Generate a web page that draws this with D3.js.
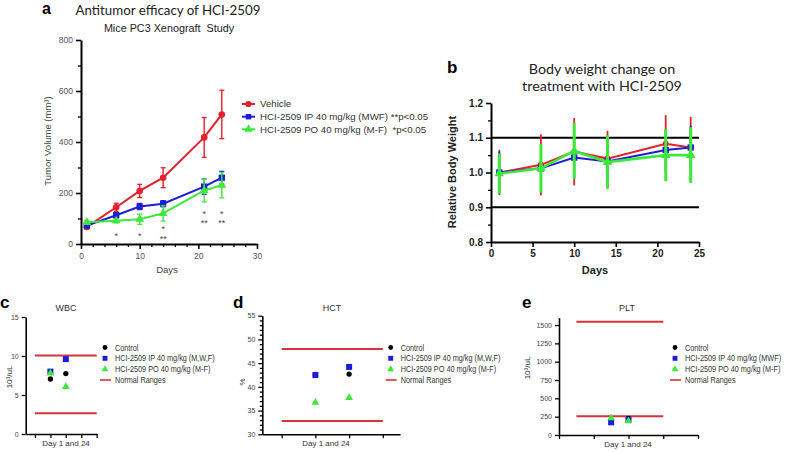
<!DOCTYPE html>
<html><head><meta charset="utf-8">
<script src="https://cdn.jsdelivr.net/npm/d3@7"></script>
<style>
body{margin:0;background:#fff;}
svg{display:block;font-family:"Liberation Sans",Arial,sans-serif;}
</style></head><body>
<svg id="chart" width="789" height="452"></svg>
<script>
// ---------------- data ----------------
const days = [1, 6, 10, 14, 21, 24];
// panel a: tumor volume (mm3)
const vehicleVol = [67, 144, 208, 260, 418, 508];
const vehicleErr = [8, 16, 26, 39, 78, 95];
const ipVol = [72, 113, 147, 158, 225, 260];
const ipErr = [8, 10, 12, 12, 30, 25];
const poVol = [85, 91, 97, 120, 210, 231];
const poErr = [8, 8, 20, 30, 45, 50];
const tumorLegend = ["Vehicle", "HCI-2509 IP 40 mg/kg (MWF) **p<0.05", "HCI-2509 PO 40 mg/kg (M-F)  *p<0.05"];
const sigDays = [6, 10, 14, 14, 21, 21, 24, 24];
const sigMarks = ["*", "*", "*", "**", "*", "**", "*", "**"];
const sigLevel = [39, 39, 67, 27, 125, 90, 125, 90];
const tumorTicks = [0, 200, 400, 600, 800];
const tumorMinor = [100, 300, 500, 700];
const dayTicksA = [0, 10, 20, 30];
const dayMinorA = [2, 4, 6, 8, 12, 14, 16, 18, 22, 24, 26, 28];

// panel b: relative body weight
const bwVehicle = [1.0, 1.022, 1.06, 1.04, 1.083, 1.072];
const bwVehicleErr = [0.065, 0.088, 0.097, 0.08, 0.082, 0.088];
const bwIP = [1.0, 1.012, 1.043, 1.032, 1.065, 1.072];
const bwIPErr = [0.06, 0.07, 0.06, 0.07, 0.06, 0.062];
const bwPO = [0.997, 1.012, 1.062, 1.03, 1.05, 1.05];
const bwPOErr = [0.058, 0.07, 0.08, 0.077, 0.075, 0.08];
const bwRefLines = [1.1, 0.9];
const bwTicks = [0.8, 0.9, 1.0, 1.1, 1.2];
const bwMinor = [0.85, 0.95, 1.05, 1.15];
const dayTicksB = [0, 5, 10, 15, 20, 25];

// panels c-e: blood counts (Day 1 and Day 24)
const wbcControl = [7.05, 7.75], wbcIP = [8.0, 9.6], wbcPO = [7.8, 6.05], wbcRange = [2.65, 10.05];
const hctControl = [42.5, 42.7], hctIP = [42.5, 44.2], hctPO = [36.7, 37.7], hctRange = [32.8, 48.0];
const pltControl = [205, 228], pltIP = [173, 205], pltPO = [232, 191], pltRange = [255, 1545];
const bloodLegendCD = ["Control", "HCI-2509 IP 40 mg/kg (M,W,F)", "HCI-2509 PO 40 mg/kg (M-F)", "Normal Ranges"];
const bloodLegendE = ["Control", "HCI-2509 IP 40 mg/kg (MWF)", "HCI-2509 PO 40 mg/kg (M-F)", "Normal Ranges"];

// ---------------- drawing ----------------
const svg = d3.select("#chart");
const RED = "#e5202a", BLUE = "#1d1dd8", GREEN = "#3ce83c", RANGE = "#d8323a";
const FONT = "Liberation Sans, Arial, sans-serif";

function styleAxis(g, sw, fs, col, bold) {
  g.select(".domain").attr("stroke", "#000").attr("stroke-width", sw);
  g.selectAll(".tick line").attr("stroke", "#000").attr("stroke-width", Math.max(1, sw * 0.8));
  g.selectAll(".tick text").attr("font-size", fs).attr("fill", col)
    .attr("font-family", FONT).attr("font-weight", bold ? "bold" : null);
}
function minor(g, axis) {
  const m = g.append("g").call(axis);
  m.select(".domain").remove();
  m.selectAll(".tick line").attr("stroke", "#000").attr("stroke-width", 1.3);
}
function series(g, x, y, xs, vals, errs, color, shape, o) {
  const eb = g.append("g").attr("stroke", color).attr("stroke-width", o.ew);
  xs.forEach((d, i) => {
    const X = x(d), y1 = y(vals[i] - errs[i]), y2 = y(vals[i] + errs[i]);
    eb.append("line").attr("x1", X).attr("x2", X).attr("y1", y1).attr("y2", y2);
    if (o.cap) {
      eb.append("line").attr("x1", X - o.cap).attr("x2", X + o.cap).attr("y1", y1).attr("y2", y1).attr("stroke-width", 1.3);
      eb.append("line").attr("x1", X - o.cap).attr("x2", X + o.cap).attr("y1", y2).attr("y2", y2).attr("stroke-width", 1.3);
    }
  });
  g.append("path").attr("d", d3.line().x((d, i) => x(xs[i])).y(d => y(d))(vals))
    .attr("fill", "none").attr("stroke", color).attr("stroke-width", o.lw);
  g.append("g").selectAll("path").data(vals).join("path")
    .attr("transform", (d, i) => `translate(${x(xs[i])},${y(d)})`)
    .attr("d", d3.symbol(shape, o.ms)).attr("fill", color);
}

// ===== Panel a =====
{
  const g = svg.append("g");
  const x = d3.scaleLinear([0, 30], [81, 257]);
  const y = d3.scaleLinear([0, 800], [244, 40]);
  const ya = g.append("g").attr("transform", "translate(81,0)")
    .call(d3.axisLeft(y).tickValues(tumorTicks).tickSize(5).tickSizeOuter(0).tickPadding(3));
  styleAxis(ya, 2, 8.5, "#555");
  minor(ya, d3.axisLeft(y).tickValues(tumorMinor).tickSize(3).tickFormat(""));
  const xa = g.append("g").attr("transform", "translate(0,244)")
    .call(d3.axisBottom(x).tickValues(dayTicksA).tickSize(5).tickSizeOuter(0).tickPadding(4));
  styleAxis(xa, 2, 8.5, "#555");
  minor(xa, d3.axisBottom(x).tickValues(dayMinorA).tickSize(3).tickFormat(""));

  series(g, x, y, days, vehicleVol, vehicleErr, RED, d3.symbolCircle, {ew: 1.4, lw: 2, ms: 34, cap: 2.5});
  series(g, x, y, days, ipVol, ipErr, BLUE, d3.symbolSquare, {ew: 1.4, lw: 2, ms: 40, cap: 2.5});
  series(g, x, y, days, poVol, poErr, GREEN, d3.symbolTriangle, {ew: 1.4, lw: 2, ms: 34, cap: 2.5});

  g.append("g").selectAll("text").data(sigMarks).join("text")
    .attr("x", (d, i) => x(sigDays[i])).attr("y", (d, i) => y(sigLevel[i]) + 5)
    .attr("text-anchor", "middle").attr("font-size", 9).attr("fill", "#444").text(d => d);

  g.append("text").attr("x", 42).attr("y", 14).attr("font-size", 16).attr("font-weight", "bold").text("a");
  g.append("text").attr("x", 168).attr("y", 15).attr("text-anchor", "middle")
    .attr("font-family", "Lato, sans-serif").attr("font-size", 13.3).attr("fill", "#222").text("Antitumor efficacy of HCI-2509");
  g.append("text").attr("x", 169).attr("y", 32).attr("text-anchor", "middle")
    .attr("font-size", 10.8).attr("fill", "#222").style("white-space", "pre").text("Mice PC3 Xenograft  Study");
  g.append("text").attr("transform", "translate(51,141) rotate(-90)").attr("text-anchor", "middle")
    .attr("font-size", 9.5).attr("fill", "#444").text("Tumor Volume (mm³)");
  g.append("text").attr("x", 167).attr("y", 273).attr("text-anchor", "middle")
    .attr("font-size", 9.5).attr("fill", "#444").text("Days");

  const cols = [RED, BLUE, GREEN], shapes = [d3.symbolCircle, d3.symbolSquare, d3.symbolTriangle];
  const ly = [104, 116.7, 129.3];
  tumorLegend.forEach((t, i) => {
    g.append("line").attr("x1", 242).attr("x2", 255).attr("y1", ly[i]).attr("y2", ly[i]).attr("stroke", cols[i]).attr("stroke-width", 2);
    g.append("path").attr("transform", `translate(248.5,${ly[i]})`).attr("d", d3.symbol(shapes[i], 30)).attr("fill", cols[i]);
    g.append("text").attr("x", 260).attr("y", ly[i]).attr("dy", "0.35em").attr("font-size", 9.7)
      .attr("fill", "#333").style("white-space", "pre").text(t);
  });
}

// ===== Panel b =====
{
  const g = svg.append("g");
  const x = d3.scaleLinear([0, 25], [491, 699]);
  const y = d3.scaleLinear([0.8, 1.2], [242, 103]);
  bwRefLines.forEach(v => g.append("line").attr("x1", x(0)).attr("x2", x(25)).attr("y1", y(v)).attr("y2", y(v))
    .attr("stroke", "#000").attr("stroke-width", 2));
  const ya = g.append("g").attr("transform", "translate(491,0)")
    .call(d3.axisLeft(y).tickValues(bwTicks).tickSize(5).tickSizeOuter(0).tickPadding(3).tickFormat(d3.format(".1f")));
  styleAxis(ya, 2, 10, "#222", true);
  minor(ya, d3.axisLeft(y).tickValues(bwMinor).tickSize(3).tickFormat(""));
  const xa = g.append("g").attr("transform", "translate(0,242)")
    .call(d3.axisBottom(x).tickValues(dayTicksB).tickSize(5).tickSizeOuter(0).tickPadding(3));
  styleAxis(xa, 2, 10, "#222", true);

  series(g, x, y, days, bwVehicle, bwVehicleErr, RED, d3.symbolCircle, {ew: 1.8, lw: 2, ms: 28});
  series(g, x, y, days, bwIP, bwIPErr, BLUE, d3.symbolSquare, {ew: 1.8, lw: 2, ms: 40});
  series(g, x, y, days, bwPO, bwPOErr, GREEN, d3.symbolTriangle, {ew: 3, lw: 2.6, ms: 40});

  g.append("text").attr("x", 447).attr("y", 73).attr("font-size", 17).attr("font-weight", "bold").text("b");
  [["Body weight change on", 74], ["treatment with HCI-2509", 91]].forEach(([t, yy]) =>
    g.append("text").attr("x", 602).attr("y", yy).attr("text-anchor", "middle")
      .attr("font-family", "Lato, sans-serif").attr("font-size", 14.3).attr("fill", "#222").text(t));
  g.append("text").attr("transform", "translate(456,172) rotate(-90)").attr("text-anchor", "middle")
    .attr("font-size", 11).attr("font-weight", "bold").attr("fill", "#222").text("Relative Body Weight");
  g.append("text").attr("x", 595).attr("y", 274).attr("text-anchor", "middle")
    .attr("font-size", 11).attr("font-weight", "bold").attr("fill", "#222").text("Days");
}

// ===== Panels c, d, e =====
function blood(cfg) {
  const g = svg.append("g");
  const x = d3.scaleLinear(cfg.xDom, cfg.xRange);
  const y = d3.scaleLinear(cfg.yDom, cfg.yRange);
  const ya = g.append("g").attr("transform", `translate(${cfg.xRange[0]},0)`)
    .call(d3.axisLeft(y).tickValues(cfg.yTicks).tickSize(4).tickSizeOuter(0).tickPadding(3).tickFormat(d3.format("d")));
  styleAxis(ya, 1.6, 7, "#444");
  if (cfg.yMinor) minor(ya, d3.axisLeft(y).tickValues(cfg.yMinor).tickSize(2.5).tickFormat(""));
  const xa = g.append("g").attr("transform", `translate(0,${cfg.yRange[0]})`)
    .call(d3.axisBottom(x).tickValues(cfg.xTicks).tickSize(4).tickSizeOuter(0).tickFormat(""));
  styleAxis(xa, 1.6, 7, "#444");

  cfg.range.forEach(v => g.append("line").attr("x1", x(cfg.rangeX[0])).attr("x2", x(cfg.rangeX[1]))
    .attr("y1", y(v)).attr("y2", y(v)).attr("stroke", RANGE).attr("stroke-width", 2));

  const groups = [[cfg.control, "#000", d3.symbolCircle, 22], [cfg.ip, BLUE, d3.symbolSquare, 36], [cfg.po, GREEN, d3.symbolTriangle, 26]];
  groups.forEach(([vals, col, sh, sz]) => {
    g.append("g").selectAll("path").data(vals).join("path")
      .attr("transform", (d, i) => `translate(${x(cfg.pointsX[i])},${y(d)})`)
      .attr("d", d3.symbol(sh, sz)).attr("fill", col);
  });

  g.append("text").attr("x", cfg.letterX).attr("y", 308).attr("font-size", 17).attr("font-weight", "bold").text(cfg.letter);
  g.append("text").attr("x", cfg.titleX).attr("y", 311).attr("text-anchor", "middle")
    .attr("font-size", 9).attr("fill", "#333").text(cfg.title);
  g.append("text").attr("transform", `translate(${cfg.yLabelX},${cfg.yLabelY}) rotate(-90)`).attr("text-anchor", "middle")
    .attr("font-size", 8).attr("fill", "#333").text(cfg.yLabel);
  g.append("text").attr("x", cfg.xLabelX).attr("y", cfg.yRange[0] + 12).attr("text-anchor", "middle")
    .attr("font-size", 8).attr("fill", "#333").text("Day 1 and 24");

  const rows = [347.5, 358.3, 369.2, 380];
  const lc = [["#000", d3.symbolCircle, 18], [BLUE, d3.symbolSquare, 24], [GREEN, d3.symbolTriangle, 20]];
  cfg.legend.forEach((t, i) => {
    if (i < 3) g.append("path").attr("transform", `translate(${cfg.legX},${rows[i]})`).attr("d", d3.symbol(lc[i][1], lc[i][2])).attr("fill", lc[i][0]);
    else g.append("line").attr("x1", cfg.legX - 5).attr("x2", cfg.legX + 6).attr("y1", rows[i]).attr("y2", rows[i]).attr("stroke", RANGE).attr("stroke-width", 1.6);
    g.append("text").attr("transform", `translate(${cfg.legX + 10},${rows[i]}) scale(0.81,1)`).attr("dy", "0.35em")
      .attr("font-size", 9).attr("fill", "#333").text(t);
  });
}

blood({letter: "c", letterX: 0, title: "WBC", titleX: 66, yLabel: "10³/uL", yLabelX: 12, yLabelY: 377, xLabelX: 66,
  xDom: [0.4, 5], xRange: [25.7, 96.7], xTicks: [1, 2, 3, 4, 5], pointsX: [2, 3], rangeX: [1, 5],
  yDom: [0, 15], yRange: [434, 317], yTicks: [0, 5, 10, 15],
  control: wbcControl, ip: wbcIP, po: wbcPO, range: wbcRange, legend: bloodLegendCD, legX: 105});
blood({letter: "d", letterX: 233, title: "HCT", titleX: 332, yLabel: "%", yLabelX: 245, yLabelY: 382, xLabelX: 326,
  xDom: [0.424, 4.51], xRange: [262.3, 400], xTicks: [1, 2, 3, 4], pointsX: [2, 3], rangeX: [1, 4],
  yDom: [30, 55], yRange: [434.3, 315.7], yTicks: [30, 35, 40, 45, 50, 55], yMinor: d3.range(31, 55).filter(v => v % 5),
  control: hctControl, ip: hctIP, po: hctPO, range: hctRange, legend: bloodLegendCD, legX: 390.7});
blood({letter: "e", letterX: 522, title: "PLT", titleX: 627, yLabel: "10³/uL", yLabelX: 530, yLabelY: 368, xLabelX: 628,
  xDom: [0, 4], xRange: [559, 698], xTicks: [0, 1, 2, 3, 4], pointsX: [1.5, 2], rangeX: [0.5, 3],
  yDom: [0, 1600], yRange: [435, 317.7], yTicks: [0, 250, 500, 750, 1000, 1250, 1500],
  control: pltControl, ip: pltIP, po: pltPO, range: pltRange, legend: bloodLegendE, legX: 675});
</script>
</body></html>
